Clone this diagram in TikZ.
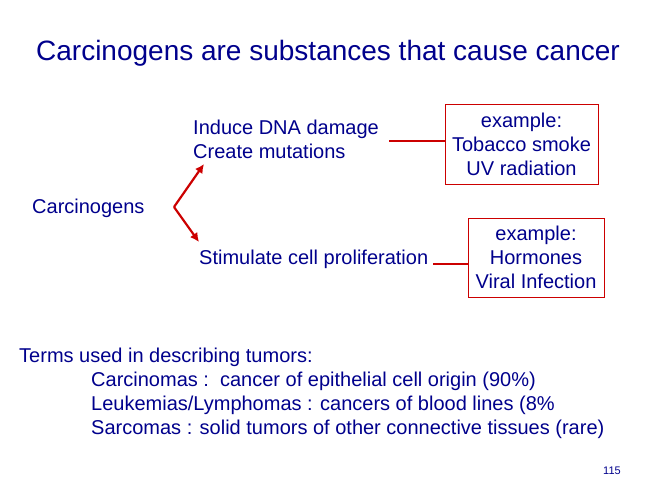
\documentclass[tikz,border=0pt]{standalone}
\usepackage{fontspec}
\usetikzlibrary{arrows.meta}
\setmainfont{Liberation Sans}
\definecolor{navy}{RGB}{0,0,140}
\definecolor{dred}{RGB}{204,0,0}
\begin{document}
\begin{tikzpicture}[x=1pt,y=-1pt,
  txt/.style={text=navy,font=\fontsize{20}{24}\selectfont,inner sep=0pt},
  ex/.style={txt,draw=dred,line width=0.8pt,align=center,inner sep=3pt},
  conn/.style={dred,line width=2.2pt},
  arr/.style={dred,line width=2.2pt,-{Latex[length=9pt,width=9pt]}}]
\useasboundingbox (0,0) rectangle (648,497);
\node[txt,font=\fontsize{28}{30}\selectfont] (title) at (328,53) {Carcinogens are substances that cause cancer};
\node[txt,anchor=west,align=left] (dna) at (193,139) {Induce DNA damage\\Create mutations};
\node[txt,anchor=west] (stim) at (199,259) {Stimulate cell proliferation};
\node[txt,anchor=west] (carc) at (32,208) {Carcinogens};
\node[ex,minimum width=153pt,minimum height=80pt] (ex1) at (521.5,144) {example:\\Tobacco smoke\\UV radiation};
\node[ex,minimum width=136pt,minimum height=79pt] (ex2) at (536,257.5) {example:\\Hormones\\Viral Infection};
\coordinate (v) at (174,207);
\coordinate (t1) at (204,164);
\coordinate (t2) at (199,242);
\draw[arr] (v) -- (t1);
\draw[arr] (v) -- (t2);
\coordinate (l1) at (389,141);
\draw[conn] (l1) -- (l1 -| ex1.west);
\coordinate (l2) at (433,264);
\draw[conn] (l2) -- (l2 -| ex2.west);
\node[txt,anchor=north west,align=left] (terms) at (19,348) {Terms used in describing tumors:\\
\hspace*{72pt}Carcinomas :\ \ cancer of epithelial cell origin (90\%)\\
\hspace*{72pt}Leukemias/Lymphomas : cancers of blood lines (8\%\\
\hspace*{72pt}Sarcomas : solid tumors of other connective tissues (rare)};
\node[txt,font=\fontsize{11}{12}\selectfont] (pg) at (612,471) {115};
\end{tikzpicture}
\end{document}
